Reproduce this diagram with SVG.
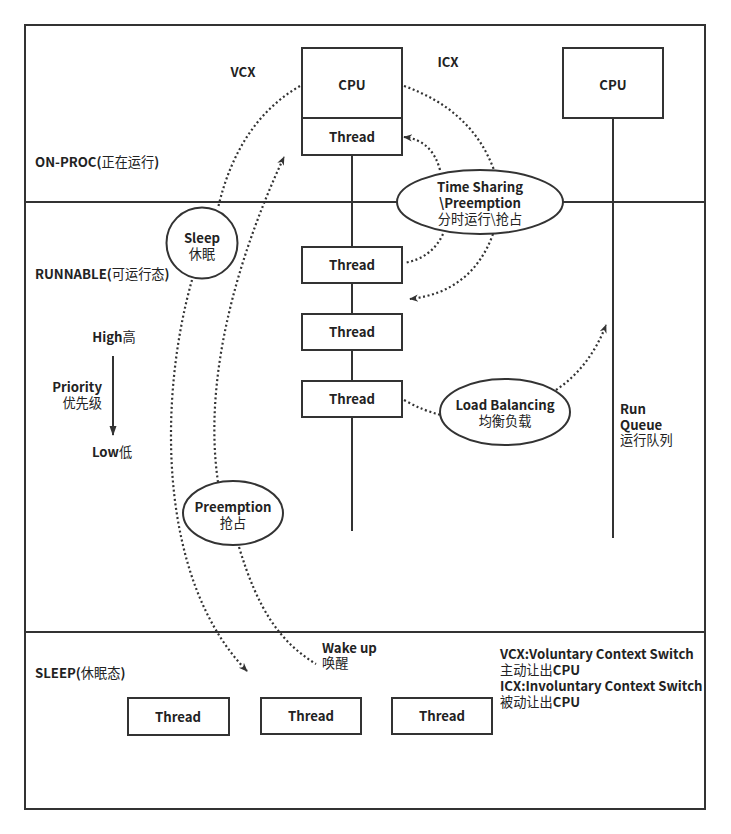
<svg xmlns="http://www.w3.org/2000/svg" width="731" height="834" viewBox="0 0 731 834">
<defs>
<style>
.box{fill:#fff;stroke:#333;stroke-width:2}
.ln{fill:none;stroke:#333;stroke-width:2}
.dot{fill:none;stroke:#333;stroke-width:2.2;stroke-dasharray:2 2.6}
text{font-family:"Noto Sans CJK SC","Liberation Sans",sans-serif;font-size:13.2px;fill:#222;font-weight:600}
.c{text-anchor:middle}
.n{font-weight:normal}
</style>
<marker id="ah" viewBox="0 0 10 10" refX="9" refY="5" markerWidth="9" markerHeight="9" orient="auto" markerUnits="userSpaceOnUse">
<path d="M0,1 L10,5 L0,9 L3,5 Z" fill="#333"/>
</marker>
<marker id="ah2" viewBox="0 0 10 10" refX="9" refY="5" markerWidth="10" markerHeight="10" orient="auto" markerUnits="userSpaceOnUse">
<path d="M0,1.5 L10,5 L0,8.5 Z" fill="#333"/>
</marker>
</defs>
<rect x="0" y="0" width="731" height="834" fill="#fff"/>
<g id="frame">
<rect x="25" y="25" width="680" height="784" class="ln"/>
<line x1="25" y1="202" x2="705" y2="202" class="ln"/>
<line x1="25" y1="632" x2="705" y2="632" class="ln"/>
<line x1="352" y1="155" x2="352" y2="531" class="ln"/>
<line x1="613" y1="118" x2="613" y2="538" class="ln"/>
</g>
<g id="connectors">
<path class="dot" d="M300,86 Q238,122 218,208"/>
<path class="dot" d="M192,280 C158,400 158,580 247,671" marker-end="url(#ah)"/>
<path class="dot" d="M218,482 C203,380 236,260 284,157" marker-end="url(#ah)"/>
<path class="dot" d="M404,86 Q472,110 494,170"/>
<path class="dot" d="M440,170 Q432,140 404,137" marker-end="url(#ah)"/>
<path class="dot" d="M443,234 Q432,258 404,263"/>
<path class="dot" d="M493,234 Q472,292 410,299" marker-end="url(#ah)"/>
<path class="dot" d="M404,400 Q424,411 441,415"/>
<path class="dot" d="M556,390 Q590,367 606,325" marker-end="url(#ah)"/>
<path class="dot" d="M239,547 C258,610 280,642 316,664"/>
<line x1="113" y1="356" x2="113" y2="435" class="ln" marker-end="url(#ah2)"/>
</g>
<g id="cpu1">
<rect x="302" y="48" width="100" height="70" class="box"/>
<text x="352" y="90" class="c">CPU</text>
</g>
<g id="thread-run">
<rect x="302" y="118" width="100" height="37" class="box"/>
<text x="352" y="142" class="c">Thread</text>
</g>
<g id="cpu2">
<rect x="563" y="48" width="100" height="70" class="box"/>
<text x="613" y="90" class="c">CPU</text>
</g>
<g id="thread-q1">
<rect x="302" y="247" width="100" height="36" class="box"/>
<text x="352" y="270" class="c">Thread</text>
</g>
<g id="thread-q2">
<rect x="302" y="314" width="100" height="36" class="box"/>
<text x="352" y="337" class="c">Thread</text>
</g>
<g id="thread-q3">
<rect x="302" y="381" width="100" height="36" class="box"/>
<text x="352" y="404" class="c">Thread</text>
</g>
<g id="timesharing">
<ellipse cx="480" cy="202" rx="83" ry="32" class="box"/>
<text x="480" y="192" class="c">Time Sharing</text>
<text x="480" y="208" class="c">\Preemption</text>
<text x="480" y="224" class="c n">分时运行\抢占</text>
</g>
<g id="sleep">
<circle cx="202" cy="243" r="35.5" class="box"/>
<text x="202" y="243" class="c">Sleep</text>
<text x="202" y="259" class="c n">休眠</text>
</g>
<g id="loadbalancing">
<ellipse cx="505" cy="412" rx="65" ry="33" class="box"/>
<text x="505" y="410" class="c">Load Balancing</text>
<text x="505" y="426" class="c n">均衡负载</text>
</g>
<g id="preemption">
<ellipse cx="233" cy="513" rx="50" ry="32" class="box"/>
<text x="233" y="512" class="c">Preemption</text>
<text x="233" y="528" class="c n">抢占</text>
</g>
<g id="thread-s1">
<rect x="128" y="698" width="101" height="37" class="box"/>
<text x="178" y="722" class="c">Thread</text>
</g>
<g id="thread-s2">
<rect x="261" y="698" width="100" height="36" class="box"/>
<text x="311" y="721" class="c">Thread</text>
</g>
<g id="thread-s3">
<rect x="392" y="698" width="100" height="36" class="box"/>
<text x="442" y="721" class="c">Thread</text>
</g>
<g id="labels">
<text x="243" y="77" class="c">VCX</text>
<text x="448" y="67" class="c">ICX</text>
<text x="35" y="167">ON-PROC(<tspan class="n">正在运行</tspan>)</text>
<text x="35" y="279">RUNNABLE(<tspan class="n">可运行态</tspan>)</text>
<text x="35" y="678">SLEEP(<tspan class="n">休眠态</tspan>)</text>
<text x="114" y="342" class="c">High<tspan class="n">高</tspan></text>
<text x="102" y="392" text-anchor="end">Priority</text>
<text x="102" y="408" text-anchor="end" class="n">优先级</text>
<text x="112" y="457" class="c">Low<tspan class="n">低</tspan></text>
<text x="620" y="414">Run</text>
<text x="620" y="430">Queue</text>
<text x="620" y="445" class="n">运行队列</text>
<text x="322" y="653">Wake up</text>
<text x="322" y="668" class="n">唤醒</text>
<text x="500" y="659">VCX:Voluntary Context Switch</text>
<text x="500" y="675"><tspan class="n">主动让出</tspan>CPU</text>
<text x="500" y="691">ICX:Involuntary Context Switch</text>
<text x="500" y="707"><tspan class="n">被动让出</tspan>CPU</text>
</g>
</svg>
